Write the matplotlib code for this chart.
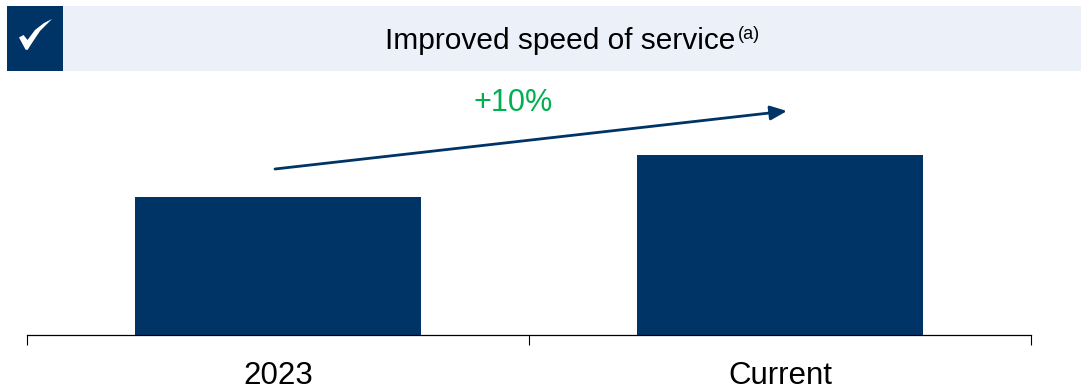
import matplotlib
matplotlib.use('Agg')
import matplotlib.pyplot as plt
from matplotlib.patches import Rectangle, Polygon

categories = ['2023', 'Current']
speed = [100, 110]
title = 'Improved speed of service'
change_label = '+10%'

navy = '#003366'
W, H = 1081, 390
plt.rcParams['font.family'] = ['Liberation Sans', 'DejaVu Sans']

fig = plt.figure(figsize=(W/100, H/100), dpi=100)

# overlay in pixel coords for the header and the arrow
deco = fig.add_axes([0, 0, 1, 1])
deco.set_xlim(0, W)
deco.set_ylim(H, 0)
deco.axis('off')
deco.add_patch(Rectangle((63, 6), W-63, 65, color='#ECF1F9', lw=0))
deco.add_patch(Rectangle((7, 6), 56, 65, color=navy, lw=0))
check = [(19, 37.5), (23.5, 35), (27.5, 40), (35, 30), (44, 23), (52, 19),
         (40, 31), (32, 43), (27.5, 50), (25.5, 49.5)]
deco.add_patch(Polygon(check, closed=True, color='white', lw=0))
deco.text(385, 41, title, fontsize=21.5, color='black', va='center', ha='left')
deco.text(738, 34.5, '(a)', fontsize=13, color='black', va='center', ha='left')
deco.text(513, 103, change_label, fontsize=22, color='#00B050', va='center', ha='center')
deco.annotate('', xy=(787, 111), xytext=(275, 169),
              arrowprops=dict(arrowstyle='-|>,head_length=1.0,head_width=0.43',
                              color=navy, lw=2, shrinkA=0, shrinkB=0))

# bars, baseline at y=335 px, axis is truncated
ax = fig.add_axes([27/W, (H-335)/H, (1031-27)/W, 335/H])
ax.patch.set_alpha(0)
ymin = 67.14
ax.set_xlim(-0.5, 1.5)
ax.set_ylim(ymin, ymin + 335/4.194)
ax.bar(categories, speed, width=0.571, color=navy)
for s in ['top', 'left', 'right']:
    ax.spines[s].set_visible(False)
ax.spines['bottom'].set_linewidth(0.9)
ax.set_yticks([])
ax.set_xticks([-0.5, 0.5, 1.5])
ax.set_xticklabels([])
ax.tick_params(axis='x', length=7.2, width=0.8, direction='out')
for i in range(len(categories)):
    ax.annotate(categories[i], xy=(i, 0), xycoords=('data', 'axes fraction'),
                xytext=(0, -29.5), textcoords='offset points',
                ha='center', va='center', fontsize=22.5, color='black')

fig.savefig('out.png', dpi=100)
